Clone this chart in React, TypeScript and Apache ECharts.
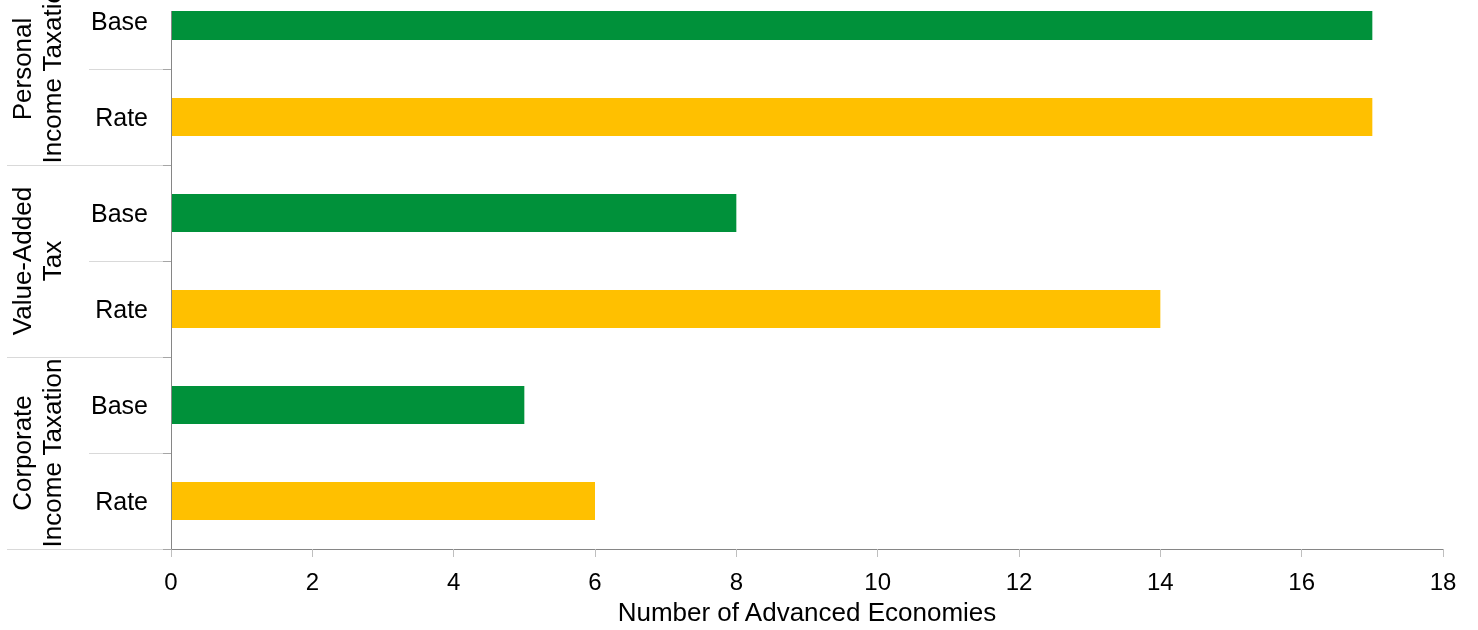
import React, { useEffect, useRef } from "react";
import * as echarts from "echarts";

// bottom-to-top order (ECharts category axes start at the bottom)
const measureLabels = ["Rate", "Base", "Rate", "Base", "Rate", "Base"];
const measureValues = [6, 5, 14, 8, 17, 17];
const groupLabels = ["Corporate\nIncome Taxation", "Value-Added\nTax", "Personal\nIncome Taxation"];
const xTicks = [0, 2, 4, 6, 8, 10, 12, 14, 16, 18];
const xTitle = "Number of Advanced Economies";

const GREEN = "#00913A";
const GOLD = "#FFC000";
const FONT = "'Liberation Sans', Arial, sans-serif";
const SHIFT = 38; // chart canvas starts above the page top, the top band is cut off

export default function App() {
  const ref = useRef<HTMLDivElement>(null);
  useEffect(() => {
    if (!ref.current) return;
    const chart = echarts.init(ref.current, undefined, { renderer: "svg" });
    chart.setOption({
      animation: false,
      textStyle: { fontFamily: FONT },
      grid: { left: 171, right: 35, top: 11, bottom: 81, containLabel: false },
      xAxis: {
        type: "value",
        min: xTicks[0],
        max: xTicks[xTicks.length - 1],
        interval: 2,
        name: xTitle,
        nameLocation: "middle",
        nameGap: 50,
        nameTextStyle: { fontSize: 26, color: "#000", fontFamily: FONT },
        axisLine: { show: true, lineStyle: { color: "#868686", width: 1 } },
        axisTick: { show: true, length: 8, lineStyle: { color: "#BFBFBF" } },
        axisLabel: { fontSize: 24, color: "#000", margin: 20, fontFamily: FONT },
        splitLine: { show: false },
      },
      yAxis: [
        {
          type: "category",
          data: measureLabels,
          position: "left",
          axisLine: { show: true, lineStyle: { color: "#868686", width: 1 } },
          axisTick: { show: true, interval: 0, length: 82, lineStyle: { color: "#D9D9D9" } },
          axisLabel: { interval: 0, fontSize: 25, color: "#000", margin: 23, fontFamily: FONT },
          z: 3,
        },
        {
          type: "category",
          data: groupLabels,
          position: "left",
          axisLine: { show: false },
          axisTick: { show: true, interval: 0, length: 164, lineStyle: { color: "#D9D9D9" } },
          axisLabel: {
            interval: 0,
            rotate: 90,
            fontSize: 26,
            lineHeight: 30,
            color: "#000",
            margin: 104,
            align: "center",
            hideOverlap: false,
            fontFamily: FONT,
          },
          z: 2,
        },
        {
          type: "category",
          data: measureLabels,
          position: "left",
          axisLine: { show: false },
          axisTick: { show: true, interval: 0, length: 8, lineStyle: { color: "#A6A6A6" } },
          axisLabel: { show: false },
          z: 4,
        },
      ],
      series: [
        {
          type: "bar",
          yAxisIndex: 0,
          barWidth: 38,
          data: measureValues.map((v, i) => ({
            value: v,
            itemStyle: { color: measureLabels[i] === "Base" ? GREEN : GOLD },
          })),
        },
      ],
      graphic: [
        {
          type: "rect",
          z: 100,
          shape: { x: 160, y: 0, width: 1318, height: SHIFT + 11 },
          style: { fill: "#fff" },
        },
      ],
    });
    return () => chart.dispose();
  }, []);
  return (
    <div
      ref={ref}
      style={{ position: "fixed", left: 0, top: -SHIFT, width: 1478, height: 630 + SHIFT }}
    />
  );
}
